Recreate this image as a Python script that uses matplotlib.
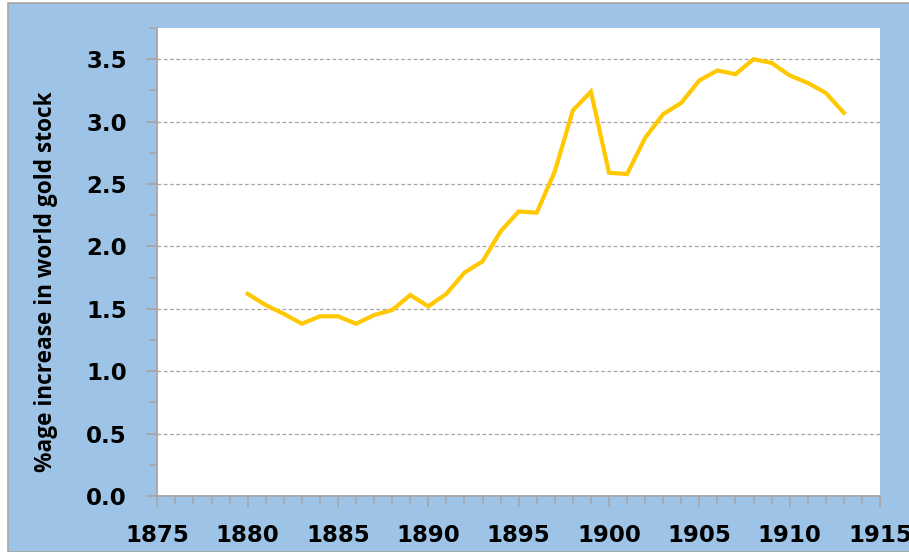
import matplotlib
matplotlib.use('Agg')
import matplotlib.pyplot as plt
from matplotlib.patches import Rectangle
from matplotlib.ticker import MultipleLocator, FormatStrFormatter

# data
years = list(range(1880, 1914))
pct_increase = [1.62, 1.53, 1.46, 1.38, 1.44, 1.44, 1.38, 1.45, 1.49, 1.61,
                1.52, 1.62, 1.79, 1.88, 2.12, 2.28, 2.27, 2.60, 3.09, 3.24,
                2.59, 2.58, 2.87, 3.06, 3.15, 3.33, 3.41, 3.38, 3.50, 3.47,
                3.37, 3.31, 3.23, 3.07]

ylabel = '%age increase in world gold stock'

bg_blue = '#9DC3E6'
gray = '#A6A6A6'

plt.rcParams['font.family'] = 'DejaVu Sans'
plt.rcParams['font.weight'] = 'bold'

fig = plt.figure(figsize=(9.09, 5.52), dpi=100)
fig.patch.set_facecolor('white')
# blue chart area with a thin gray border
bg = Rectangle((8 / 909, 0), 1.2, (552 - 3) / 552, transform=fig.transFigure,
               facecolor=bg_blue, edgecolor=gray, linewidth=1.2, zorder=-1)
fig.add_artist(bg)

ax = fig.add_axes([157.3 / 909, 56 / 552, (880 - 157.3) / 909, (496 - 28) / 552])
ax.set_zorder(2)
ax.set_facecolor('white')

ax.plot(years, pct_increase, color='#FFC800', linewidth=3.0, solid_joinstyle='miter', zorder=3)

ax.set_xlim(1875, 1915)
ax.set_ylim(0, 3.75)
ax.xaxis.set_major_locator(MultipleLocator(5))
ax.xaxis.set_minor_locator(MultipleLocator(1))
ax.yaxis.set_major_locator(MultipleLocator(0.5))
ax.yaxis.set_minor_locator(MultipleLocator(0.25))
ax.yaxis.set_major_formatter(FormatStrFormatter('%.1f'))

ax.grid(axis='y', which='major', color=gray, linestyle=(0, (3, 2)), linewidth=0.9)
ax.set_axisbelow(True)

for s in ['top', 'right']:
    ax.spines[s].set_visible(False)
for s in ['left', 'bottom']:
    ax.spines[s].set_color(gray)
    ax.spines[s].set_linewidth(1.3)

ax.tick_params(which='major', direction='out', color=gray, length=8, width=1.3,
               labelsize=16.5, labelcolor='black')
ax.tick_params(which='minor', direction='out', color=gray, length=6, width=1.1)
ax.tick_params(axis='y', which='major', pad=14)
ax.tick_params(axis='x', which='major', pad=12)

fig.text(45.8 / 909, 1 - 282 / 552, ylabel, rotation=90, ha='center', va='center',
         fontsize=16.3, fontweight='bold', family='Open Sans')

fig.savefig('out.png', dpi=100)
